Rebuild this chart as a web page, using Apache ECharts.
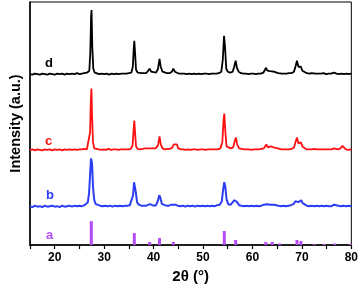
<!DOCTYPE html>
<html><head><meta charset="utf-8">
<script src="https://cdn.jsdelivr.net/npm/echarts@6/dist/echarts.min.js"></script>
<style>html,body{margin:0;padding:0;background:#fff}#c{width:361px;height:289px}</style>
</head><body><div id="c"></div>
<script>
// 2θ ticks
const xTicks = [20, 30, 40, 50, 60, 70, 80];
// trace labels
const traceNames = ['a', 'b', 'c', 'd'];
// trace d (black) [2θ, intensity]
const traceD = [[15,0.5],[15.5,0],[16,1],[16.5,0.5],[17,0],[17.5,1],[18,0.5],[18.5,0],[19,1],[19.5,0.5],[20,0],[20.5,1],[21,0.5],[21.5,1],[22,0],[22.5,1],[23,0.5],[23.5,1],[24,0.5],[24.5,1.5],[25,0.5],[25.5,1],[26,1.5],[26.5,2],[27.0,4],[27.2,22],[27.35,58],[27.45,65],[27.6,28],[27.8,6],[28.1,2],[28.5,1],[29,0.5],[29.5,1],[30,0.5],[30.5,1],[31,0],[31.5,1],[32,0.5],[32.5,1],[33,0.5],[33.5,1],[34,1],[34.5,1],[35,1.5],[35.5,2],[35.8,8],[36.0,28],[36.1,34],[36.25,22],[36.45,5],[36.8,2],[37.2,1],[37.6,1.5],[38,1],[38.5,1.5],[38.9,3],[39.2,6],[39.5,3],[39.9,2],[40.5,2],[40.9,6],[41.2,16],[41.45,8],[41.8,3],[42.2,2],[42.7,1.5],[43.2,1.5],[43.7,3],[44.0,6],[44.3,3],[44.7,1.5],[45.2,1],[45.7,1],[46.2,1],[46.7,0.5],[47.2,1],[47.7,0.5],[48.2,1],[48.7,0.5],[49.2,1],[49.7,0.5],[50.2,1],[50.7,1],[51.2,0.5],[51.7,1],[52.2,1],[52.7,1],[53.2,1.5],[53.7,3],[54.0,15],[54.25,39],[54.45,28],[54.7,6],[55.0,3],[55.5,2],[56.0,3],[56.3,8],[56.6,14],[56.85,7],[57.2,3],[57.7,1.5],[58.2,1],[58.7,1],[59.2,0.5],[59.7,1],[60.2,1],[60.7,0.5],[61.2,1],[61.7,1],[62.2,2],[62.5,4],[62.75,7],[63.0,4],[63.3,3],[63.6,3.5],[63.95,5],[64.3,3],[64.7,1.5],[65.2,1.5],[65.5,2],[65.9,1],[66.4,1],[66.9,1],[67.4,1.5],[67.9,1.5],[68.4,3],[68.75,9],[69.0,14],[69.3,8],[69.55,6],[69.8,8],[70.1,4],[70.5,2],[71,1.5],[71.5,1],[72.0,1.5],[72.4,2.5],[72.8,1],[73.3,1],[73.8,1],[74.4,1.5],[74.9,0.5],[75.4,1],[75.9,1],[76.5,2],[77.0,1],[77.5,0.5],[78,1],[78.5,0.5],[79,1],[79.5,0.5],[80,1]];
// trace c (red)
const traceC = [[15,0.5],[15.5,1],[16,0],[16.5,1],[17,0.5],[17.5,0],[18,1],[18.5,0.5],[19,1],[19.5,0],[20,1],[20.5,0.5],[21,1],[21.5,0],[22,1],[22.5,0.5],[23,1],[23.5,0.5],[24,1],[24.5,0.5],[25,1],[25.5,1],[26,1.5],[26.5,1],[26.9,3],[27.15,18],[27.3,50],[27.42,62],[27.55,35],[27.75,8],[28.0,2],[28.4,1],[28.9,1],[29.4,0.5],[29.9,1],[30.4,0.5],[30.9,1.5],[31.4,0.5],[31.9,1],[32.4,1],[32.9,0.5],[33.4,1],[33.9,1],[34.4,1],[34.9,1],[35.4,1.5],[35.75,5],[35.95,20],[36.1,30],[36.25,18],[36.45,4],[36.8,1.5],[37.3,1],[37.8,1.5],[38.3,2],[38.6,3],[38.9,2],[39.2,4],[39.5,2],[39.9,1.5],[40.4,2],[40.9,5],[41.2,14],[41.45,6],[41.8,2],[42.3,1],[42.8,1.5],[43.3,1.5],[43.8,3],[44.1,6],[44.4,8],[44.7,6],[45.0,2],[45.5,1],[46,1],[46.5,0.5],[47,1],[47.5,0.5],[48,1],[48.5,1],[49,0.5],[49.5,1],[50,1],[50.5,0.5],[51,1],[51.5,1],[52,1],[52.5,1],[53,1],[53.5,2],[53.9,8],[54.15,30],[54.3,37],[54.5,20],[54.75,4],[55.1,2],[55.6,2],[56.1,3],[56.4,9],[56.65,13],[56.9,6],[57.3,2],[57.8,1.5],[58.3,1],[58.8,1],[59.3,1],[59.8,0.5],[60.3,1],[60.8,1],[61.3,1],[61.8,1.5],[62.3,2],[62.55,4],[62.8,6],[63.1,3],[63.4,3],[63.7,4],[64.0,6],[64.3,3],[64.7,2],[65.1,2],[65.5,2],[65.9,1],[66.4,1],[66.9,1],[67.4,1],[67.9,1.5],[68.4,3],[68.75,9],[69.0,13],[69.3,7],[69.55,6],[69.8,8],[70.1,4],[70.5,2],[71,1],[71.5,1],[72,1],[72.5,1.5],[73,1],[73.5,1],[74,1],[74.5,1],[75,1],[75.5,1],[76,1],[76.5,2],[76.9,2.5],[77.3,1],[77.8,2],[78.2,4.5],[78.5,3],[78.9,1],[79.4,0.5],[80,1]];
// trace b (blue)
const traceB = [[15,1],[15.5,0],[16,1.5],[16.5,0.5],[17,1],[17.5,0],[18,1.5],[18.5,0.5],[19,1],[19.5,1.5],[20,0.5],[20.5,1],[21,0],[21.5,1.5],[22,0.5],[22.5,1],[23,1.5],[23.5,0.5],[24,1.5],[24.5,1],[25,1.5],[25.5,1],[26,2],[26.4,2.5],[26.7,5],[26.95,14],[27.15,32],[27.35,49],[27.55,44],[27.75,20],[28.0,7],[28.3,3],[28.7,2],[29.2,1.5],[29.7,1],[30.2,1.5],[30.7,1],[31.2,1.5],[31.7,0.5],[32.2,1.5],[32.7,1],[33.2,1.5],[33.7,1],[34.2,1.5],[34.7,1.5],[35.2,2],[35.6,4],[35.85,12],[36.05,25],[36.2,27],[36.4,15],[36.65,5],[37.0,2.5],[37.5,1.5],[38,1.5],[38.5,1.5],[38.9,2],[39.25,3],[39.6,2],[40,1.5],[40.5,2],[40.85,6],[41.15,12],[41.4,9],[41.7,3],[42.1,2],[42.6,1.5],[43.1,1.5],[43.6,2.5],[44.0,4.5],[44.4,2.5],[44.9,1.5],[45.4,1],[45.9,1.5],[46.4,0.5],[46.9,1.5],[47.4,1],[47.9,1.5],[48.4,0.5],[48.9,1.5],[49.4,1],[49.9,1.5],[50.4,1],[50.9,1.5],[51.4,1],[51.9,1.5],[52.4,1],[52.9,2],[53.4,2.5],[53.8,6],[54.05,17],[54.3,25],[54.5,21],[54.75,8],[55.1,3],[55.6,2.5],[56.0,3.5],[56.35,7],[56.6,8],[56.9,5],[57.3,2],[57.8,1.5],[58.3,1],[58.8,1.5],[59.3,1],[59.8,1.5],[60.3,1],[60.8,1.5],[61.3,1],[61.8,1.5],[62.3,2.5],[62.65,4],[62.95,3],[63.3,2],[63.6,2.5],[64.0,3.5],[64.4,2.5],[64.8,1.5],[65.3,1.5],[65.8,1],[66.3,1.5],[66.8,1],[67.3,1.5],[67.8,2],[68.3,3],[68.7,6],[69.0,7],[69.3,5],[69.55,5.5],[69.85,7],[70.15,4],[70.5,2],[71,1.5],[71.5,1],[72,1.5],[72.5,1],[73,1.5],[73.5,1],[74,1.5],[74.5,1],[75,1.5],[75.5,1],[76,1],[76.5,2.5],[76.9,1],[77.4,1.5],[77.9,1],[78.4,1.5],[78.9,1],[79.4,1.5],[80,1]];
// reference a (purple sticks)
const sticksA = [[27.4,24],[36.1,12],[39.2,3],[41.2,7],[44.0,3],[54.3,14],[56.6,5],[62.7,3],[64.0,3],[65.5,1.5],[69.0,5],[69.8,4],[72.5,1],[74.5,1],[76.6,1.5],[79.8,1]];

const offsets = {a: 0, b: 38, c: 95, d: 171};
const colors = {a: '#b44cf5', b: '#2b3df5', c: '#ff1010', d: '#000000'};
const shift = (arr, o) => arr.map(p => [p[0], p[1] + o]);

const chart = echarts.init(document.getElementById('c'), null, {renderer: 'canvas'});
const font = 'Liberation Sans, Arial, sans-serif';
chart.setOption({
  animation: false,
  grid: {left: 23, right: 8, top: 2, bottom: 43, show: true, borderColor: '#000', borderWidth: 1},
  xAxis: {
    type: 'value', min: 15, max: 80, interval: 5,
    name: '2θ (°)', nameLocation: 'middle', nameGap: 24,
    nameTextStyle: {fontFamily: font, fontWeight: 'bold', fontSize: 15, color: '#000'},
    axisLine: {lineStyle: {color: '#000', width: 1.5}},
    axisTick: {show: true, length: 4, lineStyle: {color: '#000', width: 1.2}},
    axisLabel: {interval: 0, fontFamily: font, fontWeight: 'bold', fontSize: 12, color: '#000', margin: 7,
      formatter: v => xTicks.includes(v) ? String(v) : ''},
    splitLine: {show: false}
  },
  yAxis: {
    type: 'value', min: 0, max: 244,
    name: 'Intensity (a.u.)', nameLocation: 'middle', nameGap: 7,
    nameTextStyle: {fontFamily: font, fontWeight: 'bold', fontSize: 14.5, color: '#000'},
    axisLine: {show: true, lineStyle: {color: '#000', width: 1.5}},
    axisTick: {show: false}, axisLabel: {show: false}, splitLine: {show: false}
  },
  graphic: [
    {type: 'text', left: 45, top: 57, style: {text: traceNames[3], fontFamily: font, fontWeight: 'bold', fontSize: 13, fill: colors.d}},
    {type: 'text', left: 45, top: 135, style: {text: traceNames[2], fontFamily: font, fontWeight: 'bold', fontSize: 13, fill: colors.c}},
    {type: 'text', left: 46, top: 189, style: {text: traceNames[1], fontFamily: font, fontWeight: 'bold', fontSize: 13, fill: colors.b}},
    {type: 'text', left: 46, top: 229, style: {text: traceNames[0], fontFamily: font, fontWeight: 'bold', fontSize: 13, fill: colors.a}}
  ],
  series: [
    {type: 'bar', data: sticksA, barWidth: 3, itemStyle: {color: colors.a}},
    {type: 'line', data: shift(traceB, offsets.b), symbol: 'none', lineStyle: {color: colors.b, width: 2}},
    {type: 'line', data: shift(traceC, offsets.c), symbol: 'none', lineStyle: {color: colors.c, width: 1.8}},
    {type: 'line', data: shift(traceD, offsets.d), symbol: 'none', lineStyle: {color: colors.d, width: 1.8}}
  ]
});
</script></body></html>
